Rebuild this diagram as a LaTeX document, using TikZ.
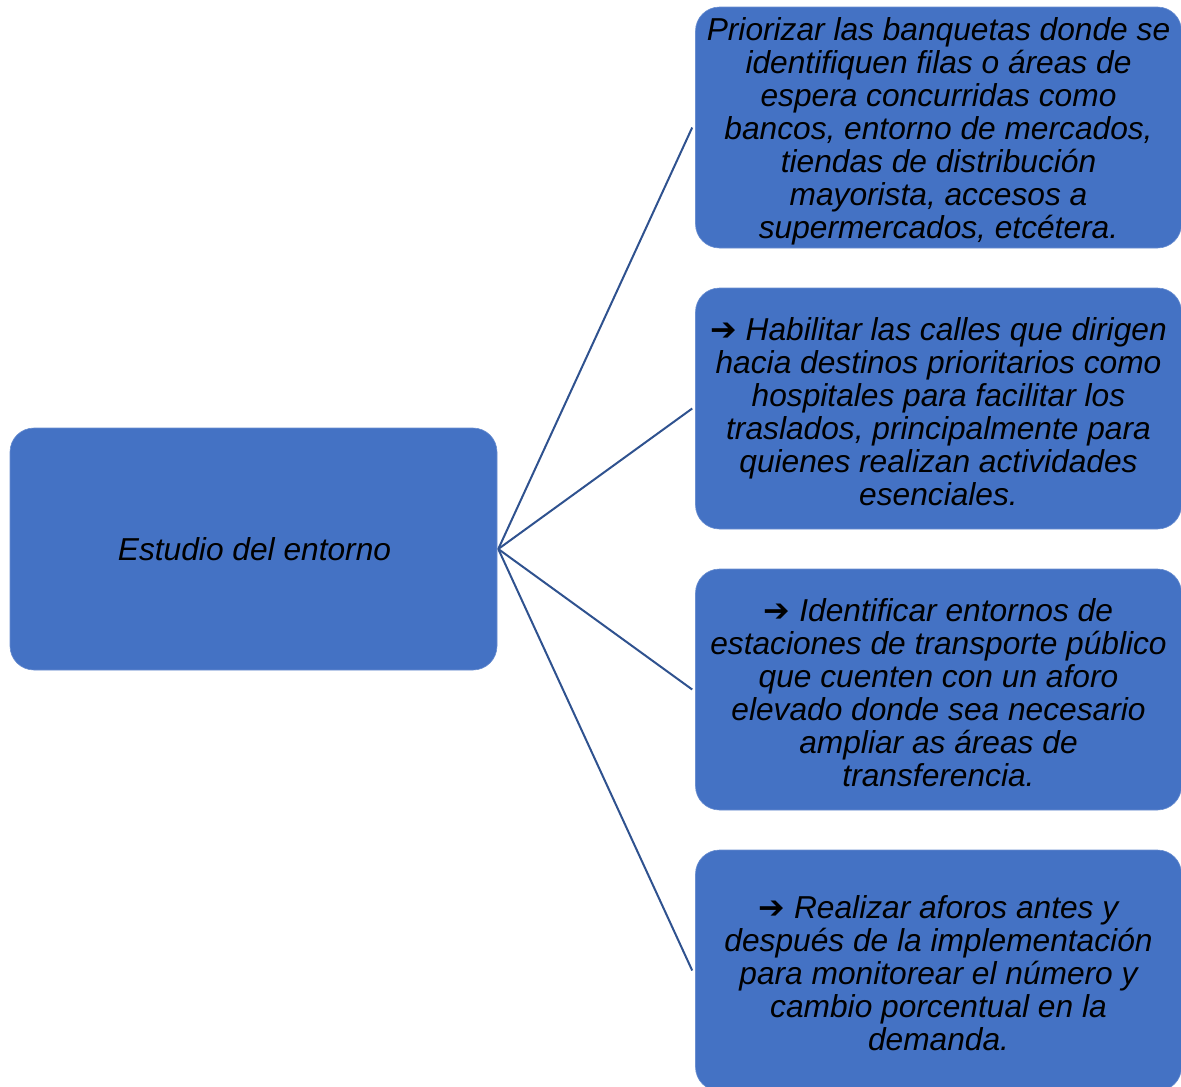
\documentclass[tikz,border=0pt]{standalone}
\usepackage{fontspec}
\setmainfont{Liberation Sans}
\newfontfamily\symfont{DejaVu Sans}
\definecolor{boxblue}{HTML}{4472C4}
\definecolor{lineblue}{HTML}{2F528F}
\begin{document}
\begin{tikzpicture}[x=1pt,y=-1pt,
  boxnode/.style={fill=boxblue, draw=boxblue!80!white, line width=0.6pt, rounded corners=24pt,
    minimum width=486pt, minimum height=241pt, inner sep=0pt},
  boxtext/.style={inner sep=0pt, align=center,
    font=\fontsize{31.7}{33}\selectfont\itshape, text=black},
  conn/.style={draw=lineblue, line width=2pt}]
\useasboundingbox (0,0) rectangle (1181,1087);
\clip (0,0) rectangle (1181,1087);
\node[boxnode, minimum width=487pt, minimum height=242pt] (root) at (253.5,549) {};
\node[boxtext] (roott) at ([xshift=1pt]root.center) {Estudio del entorno};
\node[boxnode] (b1) at (938.5,127.5) {};
\node[boxtext] (b1t) at ([yshift=-4pt]b1.center) {Priorizar las banquetas donde se\\identifiquen filas o áreas de\\espera concurridas como\\bancos, entorno de mercados,\\tiendas de distribución\\mayorista, accesos a\\supermercados, etcétera.};
\node[boxnode] (b2) at (938.5,408.5) {};
\node[boxtext] (b2t) at ([yshift=-3pt]b2.center) {{\symfont\upshape\bfseries ➔} Habilitar las calles que dirigen\\hacia destinos prioritarios como\\hospitales para facilitar los\\traslados, principalmente para\\quienes realizan actividades\\esenciales.};
\node[boxnode] (b3) at (938.5,689.5) {};
\node[boxtext] (b3t) at ([yshift=-3pt]b3.center) {{\symfont\upshape\bfseries ➔} Identificar entornos de\\estaciones de transporte público\\que cuenten con un aforo\\elevado donde sea necesario\\ampliar as áreas de\\transferencia.};
\node[boxnode] (b4) at (938.5,970.5) {};
\node[boxtext] (b4t) at ([yshift=-3pt]b4.center) {{\symfont\upshape\bfseries ➔} Realizar aforos antes y\\después de la implementación\\para monitorear el número y\\cambio porcentual en la\\demanda.};
\foreach \b in {b1,b2,b3,b4}
  \draw[conn] ([xshift=1pt]root.east) -- ([xshift=-3pt]\b.west);
\end{tikzpicture}
\end{document}
